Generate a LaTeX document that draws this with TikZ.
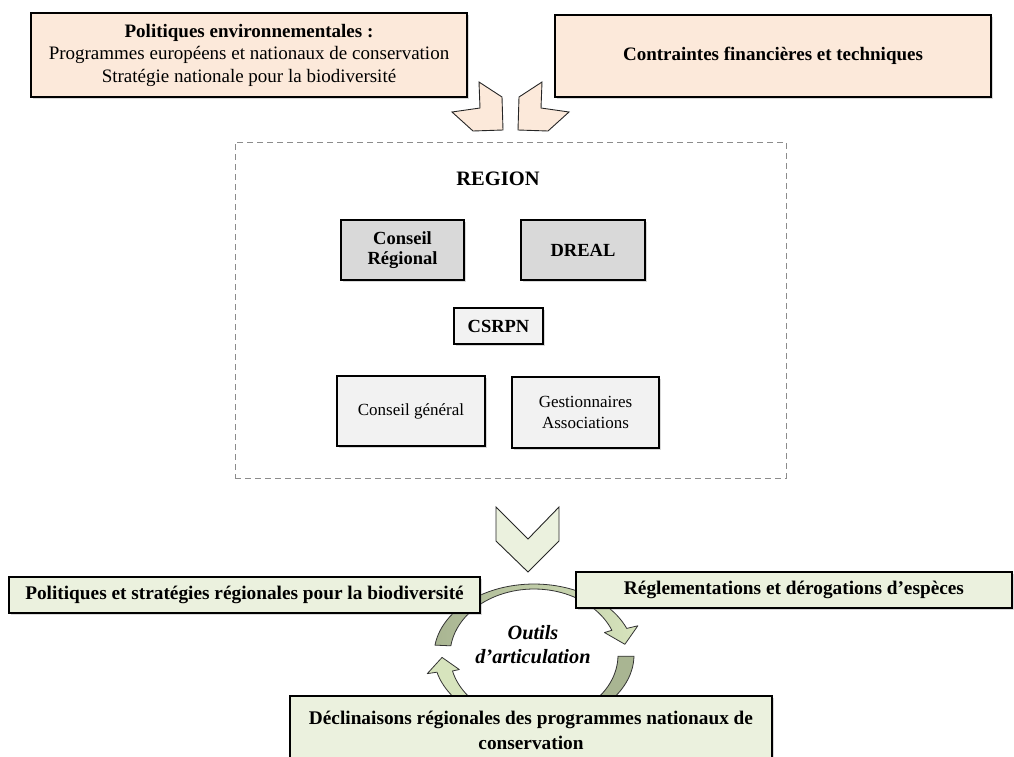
\documentclass[tikz,border=0pt]{standalone}
\usepackage{fontspec}
\setmainfont{Liberation Serif}
\usetikzlibrary{shadows}
\definecolor{peach}{HTML}{FCE9DA}
\definecolor{grayA}{HTML}{D9D9D9}
\definecolor{grayB}{HTML}{F2F2F2}
\definecolor{greenL}{HTML}{EBF1DE}
\definecolor{arrDark}{HTML}{A9B592}
\definecolor{arrLight}{HTML}{D7E4BD}
\definecolor{dashgray}{HTML}{8C8C8C}
\begin{document}
\begin{tikzpicture}[x=1pt,y=-1pt,
  box/.style={draw=black, line width=1.1pt, rectangle, inner sep=0pt, align=center,
    drop shadow={shadow xshift=1.5pt,shadow yshift=-2pt,opacity=0.3}},
  peachbox/.style={box, fill=peach},
  darkbox/.style={box, fill=grayA},
  lightbox/.style={box, fill=grayB},
  greenbox/.style={box, fill=greenL},
  chev/.style={draw=black!85, line width=0.9pt, line join=miter},
  cyc/.style={draw=black!80, line width=0.8pt, line join=round},
  big/.style={font=\fontsize{19}{22.5}\selectfont},
  mid/.style={font=\fontsize{18.5}{19.5}\selectfont},
  gtext/.style={font=\fontsize{19.3}{25}\selectfont},
]
\useasboundingbox (0,0) rectangle (1014,756);
\clip (0,0) rectangle (1014,756);

% cycle arrows
\shadedraw[cyc, left color=arrDark, right color=arrLight]
  plot[domain=172:22, samples=50] ({534+100*cos(\x)},{655-71*sin(\x)})
  -- ({534+112*cos(22)},{655-78*sin(22)})
  -- ({534+92*cos(9)},{655-68.5*sin(9)})
  -- ({534+76*cos(22)},{655-60*sin(22)})
  -- plot[domain=22:172, samples=50] ({534+84*cos(\x)},{655-66*sin(\x)})
  -- cycle;
\filldraw[cyc, fill=arrDark]
  plot[domain=-1:-80, samples=30] ({534+100*cos(\x)},{655-71*sin(\x)})
  -- ({534+110*cos(-80)},{655-77*sin(-80)})
  -- ({534+92*cos(-92)},{655-68.5*sin(-92)})
  -- ({534+78*cos(-80)},{655-61*sin(-80)})
  -- plot[domain=-80:-1, samples=30] ({534+84*cos(\x)},{655-66*sin(\x)})
  -- cycle;
\filldraw[cyc, fill=arrLight]
  plot[domain=262:194, samples=30] ({534+100*cos(\x)},{655-71*sin(\x)})
  -- ({534+110*cos(194)},{655-77*sin(194)})
  -- ({534+92*cos(182)},{655-68.5*sin(182)})
  -- ({534+77*cos(194)},{655-60*sin(194)})
  -- plot[domain=194:262, samples=30] ({534+84*cos(\x)},{655-66*sin(\x)})
  -- cycle;

% top chevrons
\filldraw[chev, fill=peach] (479,82) -- (502,97) -- (503,130) -- (473,131) -- (452,112) -- (480,108) -- cycle;
\filldraw[chev, fill=peach] (542,82) -- (519,97) -- (518,130) -- (548,131) -- (569,112) -- (541,108) -- cycle;
% down chevron
\filldraw[chev, fill=greenL] (496,507) -- (528,539) -- (559,507) -- (559,541) -- (528,572) -- (496,541) -- cycle;

% top boxes
\node[peachbox, big, minimum width=436pt, minimum height=84pt] (pol) at (249,55)
  {\textbf{Politiques environnementales :}\\Programmes européens et  nationaux de conservation\\Stratégie nationale pour la biodiversité};
\node[peachbox, big, minimum width=436pt, minimum height=82pt] (con) at (773,56)
  {\textbf{Contraintes financières et techniques}};

% region
\node[draw=dashgray, dashed, line width=1pt, dash pattern=on 6pt off 4pt, minimum width=551pt, minimum height=336pt, inner sep=0pt] (region) at (510.5,310) {};
\node[font=\fontsize{20.5}{23}\selectfont\bfseries] (regionlbl) at (498,179) {REGION};
\node[darkbox, mid, minimum width=123pt, minimum height=60pt] (cr) at (402.5,250) {\textbf{Conseil}\\\textbf{Régional}};
\node[darkbox, mid, minimum width=124pt, minimum height=60pt] (dreal) at (583,250) {\textbf{DREAL}};
\node[lightbox, mid, minimum width=89pt, minimum height=36pt] (csrpn) at (498.5,326) {\textbf{CSRPN}};
\node[lightbox, font=\fontsize{17}{20.5}\selectfont, minimum width=148pt, minimum height=70pt] (cg) at (411,411) {Conseil général};
\node[lightbox, font=\fontsize{17}{20.5}\selectfont, minimum width=147pt, minimum height=71pt] (gest) at (585.5,412.5) {Gestionnaires\\Associations};

% green boxes
\node[greenbox, gtext, minimum width=471pt, minimum height=36pt] (strat) at (244.5,595)
  {\textbf{Politiques et stratégies régionales pour la biodiversité}};
\node[greenbox, gtext, minimum width=436pt, minimum height=36pt] (regl) at (794,590)
  {\textbf{Réglementations et dérogations d’espèces}};
\node[greenbox, gtext, minimum width=482pt, minimum height=69pt] (decl) at (531,730.5)
  {\textbf{Déclinaisons régionales des programmes nationaux de}\\\textbf{conservation}};

\node[font=\fontsize{20.3}{24}\selectfont\bfseries\itshape, align=center] (outils) at (533,645) {Outils\\d’articulation};
\end{tikzpicture}
\end{document}
